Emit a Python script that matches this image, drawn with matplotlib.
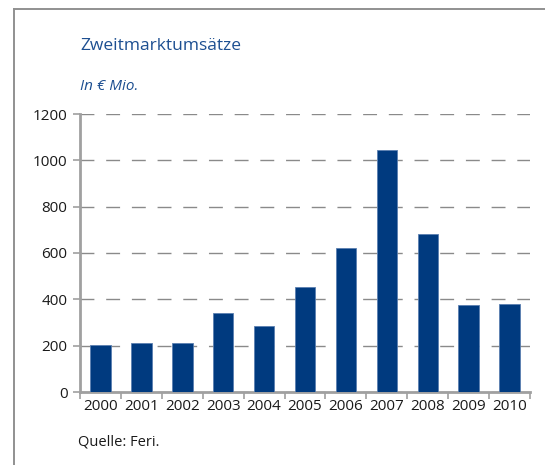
import matplotlib.pyplot as plt
from matplotlib.lines import Line2D

years = ["2000", "2001", "2002", "2003", "2004", "2005", "2006", "2007", "2008", "2009", "2010"]
umsaetze = [204, 210, 213, 342, 287, 454, 622, 1045, 684, 374, 380]
y_ticks = [0, 200, 400, 600, 800, 1000, 1200]

plt.rcParams['font.family'] = ['Open Sans', 'DejaVu Sans']

fig = plt.figure(figsize=(5.45, 4.65), dpi=100)
W, H = 545, 465

# plot area in pixels: x 80..530, y 114..392
ax = fig.add_axes([80 / W, 1 - 392 / H, 450 / W, 278 / H])

ax.bar(range(len(years)), umsaetze, width=0.5, color="#003a7f",
       edgecolor="#5a7fb0", linewidth=0.6, zorder=3)

ax.set_xlim(-0.5, len(years) - 0.5)
ax.set_ylim(0, 1200)
ax.set_yticks(y_ticks)
ax.set_yticklabels([str(t) for t in y_ticks], fontsize=11, color="#1a1a1a")
ax.set_xticks(range(len(years)))
ax.set_xticklabels(years, fontsize=11, color="#1a1a1a")
ax.tick_params(axis="x", length=0, pad=5)
ax.tick_params(axis="y", length=5, width=1.2, color="#a0a0a0", pad=4)

# minor ticks between categories on the x axis
ax.set_xticks([i - 0.5 for i in range(len(years) + 1)], minor=True)
ax.tick_params(axis="x", which="minor", length=5, width=1.2, color="#a0a0a0")

ax.yaxis.grid(True, color="#8a8a8a", linewidth=1.0, linestyle=(0, (10, 8.5)), zorder=0)
for s in ["top", "right"]:
    ax.spines[s].set_visible(False)
for s in ["left", "bottom"]:
    ax.spines[s].set_color("#a0a0a0")
    ax.spines[s].set_linewidth(2)

fig.text(80 / W, 1 - 46 / H, "Zweitmarktumsätze", fontsize=12.5, color="#1d4f91",
         va="center", ha="left")
fig.text(80 / W, 1 - 87 / H, "In € Mio.", fontsize=11, color="#1d4f91",
         style="italic", va="center", ha="left")
fig.text(78 / W, 1 - 442 / H, "Quelle: Feri.", fontsize=10.5, color="#1a1a1a",
         va="center", ha="left")

# outer frame lines
fig.add_artist(Line2D([13.5 / W, 13.5 / W], [0, 1 - 9.5 / H], color="#909090", linewidth=1.4))
fig.add_artist(Line2D([13.5 / W, 1], [1 - 9.5 / H, 1 - 9.5 / H], color="#909090", linewidth=1.4))

fig.savefig("out.png", dpi=100)
